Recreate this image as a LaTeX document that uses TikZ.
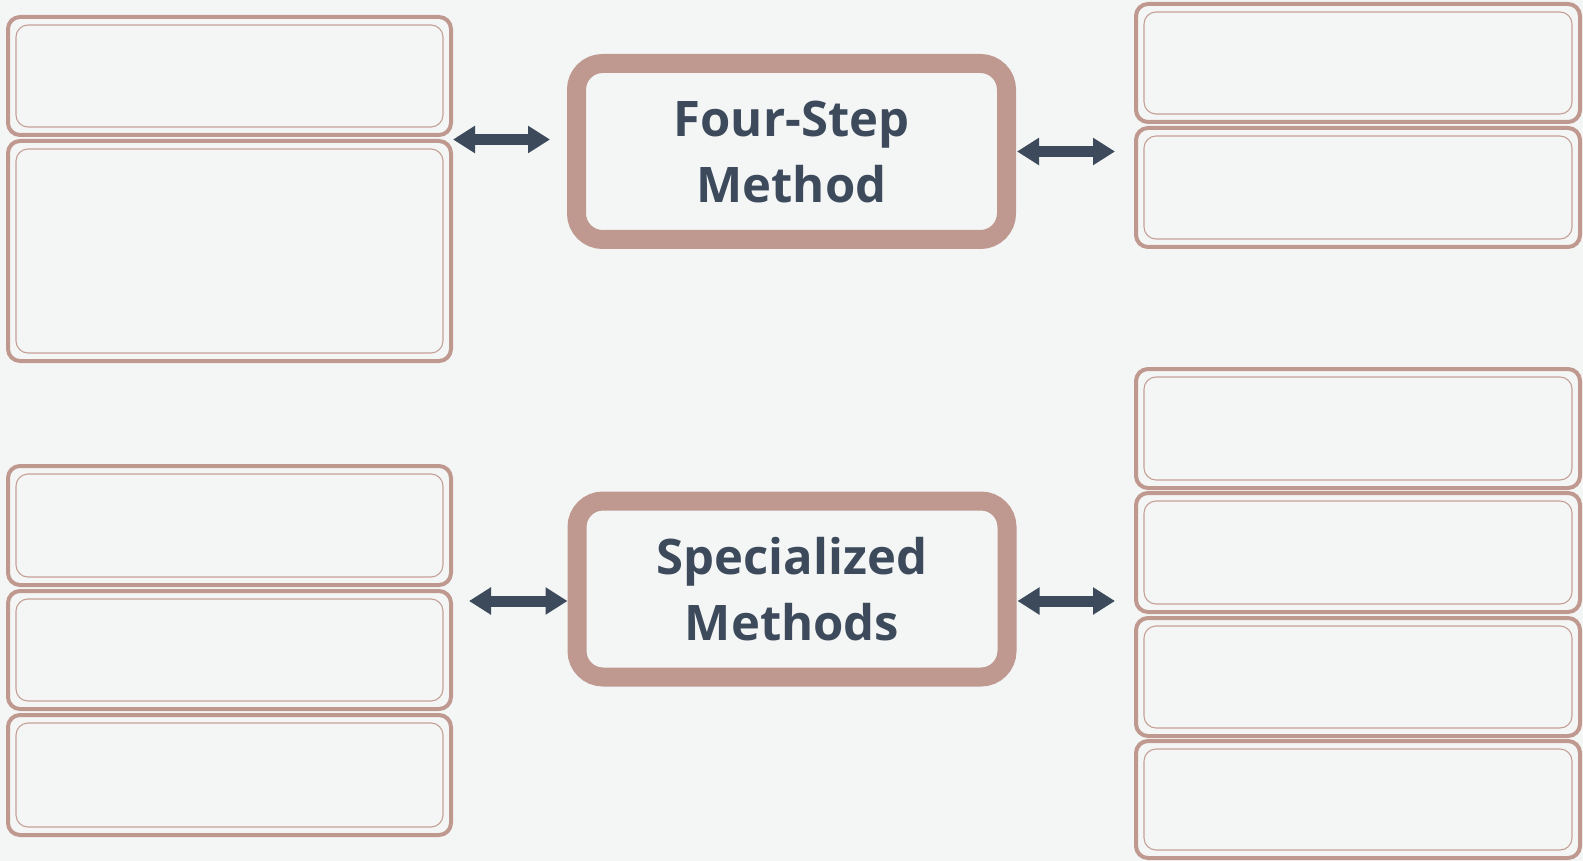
\documentclass[tikz,border=0pt]{standalone}
\usepackage{fontspec}
\setmainfont{Open Sans}
\usepackage{tikz}
\usetikzlibrary{arrows.meta,positioning}
\definecolor{pagebg}{HTML}{F4F6F5}
\definecolor{rosebrown}{HTML}{BF9990}
\definecolor{roselight}{HTML}{C4A096}
\definecolor{slate}{HTML}{3D4A5C}

\begin{document}
\begin{tikzpicture}[
  x=1pt,y=-1pt,
  card/.style={draw=rosebrown,line width=4pt,rounded corners=12pt,fill=pagebg,
    minimum width=443pt,minimum height=118pt,inner sep=0pt,
    path picture={\draw[roselight,line width=1.1pt,rounded corners=12pt]
      ([shift={(8pt,8pt)}]path picture bounding box.south west) rectangle
      ([shift={(-8pt,-8pt)}]path picture bounding box.north east);}},
  method/.style={draw=rosebrown,line width=19pt,rounded corners=26pt,fill=pagebg,
    minimum width=430pt,minimum height=176pt,align=center,text=slate,
    font=\fontsize{49}{66}\selectfont\bfseries},
  link/.style={{Triangle[length=22pt,width=26pt]}-{Triangle[length=22pt,width=26pt]},
    slate,line width=11pt}
]
\fill[pagebg] (0,0) rectangle (1583,861);
\useasboundingbox (0,0) rectangle (1583,861);

% centre blocks
\node[method] (fourstep) at (791.5,151.5) {Four-Step\\Method};
\node[method] (special) at (792,589) {Specialized\\Methods};

% left column
\node[card] (l1) at (229.5,76) {};
\node[card,minimum height=220pt] (l2) at (229.5,251) {};
\node[card,minimum height=119pt] (l3) at (229.5,525.5) {};
\node[card] (l4) at (229.5,650) {};
\node[card,minimum height=120pt] (l5) at (229.5,775) {};

% right column
\node[card,minimum width=444pt] (r1) at (1358,63) {};
\node[card,minimum width=444pt,minimum height=119pt] (r2) at (1358,187.5) {};
\node[card,minimum width=444pt,minimum height=119pt] (r3) at (1358,428.5) {};
\node[card,minimum width=444pt,minimum height=119pt] (r4) at (1358,552.5) {};
\node[card,minimum width=444pt] (r5) at (1358,677) {};
\node[card,minimum width=444pt,minimum height=117pt] (r6) at (1358,799.5) {};

% double arrows
\coordinate (tl) at ([yshift=-2.5pt]l1.south east);
\draw[link] (tl) -- ([xshift=-17pt]fourstep.west |- tl);
\coordinate (tr) at ([xshift=1pt]fourstep.east);
\draw[link] (tr) -- ([xshift=-19pt]r1.west |- tr);
\coordinate (bl) at ([yshift=-12pt]special.west);
\draw[link] ([xshift=16pt]l4.east |- bl) -- (bl);
\coordinate (br) at ([shift={(1pt,-12pt)}]special.east);
\draw[link] (br) -- ([xshift=-19pt]r4.west |- br);
\end{tikzpicture}
\end{document}
